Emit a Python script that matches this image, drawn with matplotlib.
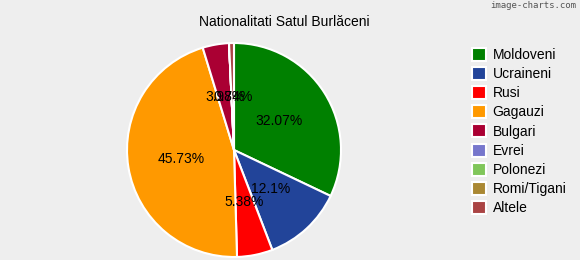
import matplotlib
matplotlib.use("Agg")
import matplotlib.pyplot as plt

categories = ["Moldoveni", "Ucraineni", "Rusi", "Gagauzi", "Bulgari",
              "Evrei", "Polonezi", "Romi/Tigani", "Altele"]
values = [32.07, 12.1, 5.38, 45.73, 3.98, 0.0, 0.0, 0.0, 0.74]
colors = ["#008000", "#224499", "#FF0000", "#FF9900", "#AA0033",
          "#7777CC", "#80C65A", "#AA8833", "#AA4444"]
title = "Nationalitati Satul Burlăceni"

plt.rcParams['font.family'] = ['Liberation Sans', 'DejaVu Sans']
bg = "#EEEEEE"
fig = plt.figure(figsize=(5.8, 2.6), dpi=100, facecolor=bg)

cx, cy, r = 234, 150, 107
W, H = 580, 260
ax = fig.add_axes([(cx - r) / W, 1 - (cy + r) / H, 2 * r / W, 2 * r / H])
ax.set_facecolor(bg)

def fmt(p):
    return "" if p < 0.01 else f"{p:.4g}%"

wedges, texts, autotexts = ax.pie(
    values, colors=colors, startangle=90, counterclock=False,
    autopct=fmt, pctdistance=0.5, radius=1.0,
    wedgeprops=dict(edgecolor="white", linewidth=1.5),
    textprops=dict(fontsize=10, color="black"))
ax.set_xlim(-1, 1)
ax.set_ylim(-1, 1)
ax.set_aspect("equal")
ax.axis("off")

fig.text(284 / W, 1 - 22 / H, title, ha="center", va="center", fontsize=10)
fig.text(576 / W, 1 - 6 / H, "image-charts.com", ha="right", va="center",
         fontsize=6.5, color="#555555", family=["DejaVu Sans Mono"])

leg = fig.legend(wedges, categories, loc="upper left",
                 bbox_to_anchor=(462 / W, 1 - 38 / H), frameon=False,
                 fontsize=10, handlelength=1.05, handleheight=1.05,
                 handletextpad=0.45, labelspacing=0.36, borderpad=0.2)

fig.savefig("out.png", dpi=100, facecolor=bg)
